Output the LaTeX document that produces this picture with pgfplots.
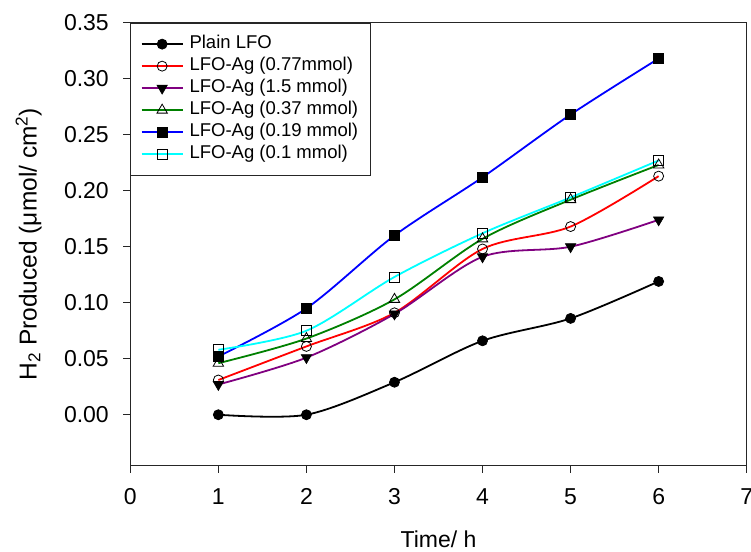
\documentclass[border=0pt]{standalone}
\usepackage{pgfplots}
\pgfplotsset{compat=1.18}
\usepackage{fontspec}
\setmainfont{Liberation Sans}
\definecolor{cpurple}{RGB}{128,0,128}
\definecolor{cgreen}{RGB}{0,128,0}
\definecolor{ccyan}{RGB}{0,255,255}
\begin{document}
\begin{tikzpicture}
\begin{axis}[
  name=ax,
  scale only axis,
  width=616.4pt, height=443pt,
  xmin=0, xmax=7, ymin=-0.0455, ymax=0.35,
  xtick={0,1,2,3,4,5,6,7},
  ytick={0,0.05,0.10,0.15,0.20,0.25,0.30,0.35},
  tick align=outside,
  xtick pos=bottom, ytick pos=left,
  major tick length=7pt,
  axis line style={line width=0.9pt, black!85},
  every tick/.style={line width=0.9pt, black!85},
  /pgf/number format/assume math mode=true,
  ticklabel style={font=\fontsize{23}{23}\selectfont},
  yticklabel style={/pgf/number format/fixed, /pgf/number format/fixed zerofill, /pgf/number format/precision=2, xshift=-11pt},
  xticklabel style={yshift=-12pt},
  scaled y ticks=false,
  xlabel={Time/ h},
  ylabel={H\textsubscript{2} Produced (μmol/ cm\textsuperscript{2})},
  xlabel style={font=\fontsize{23}{23}\selectfont, at={(axis description cs:0.5,-0.165)}, anchor=center},
  ylabel style={font=\fontsize{24.5}{24.5}\selectfont, at={(axis description cs:-0.165,0.5)}, anchor=center},
  legend cell align=left,
  legend style={at={(0,1)}, anchor=north west, draw=black!85, line width=0.9pt,
    font=\fontsize{18.5}{18.5}\selectfont, inner sep=10pt, row sep=0pt, column sep=4pt,
    nodes={inner sep=2pt, text height=13.5pt, text depth=4.5pt}},
  legend image code/.code={\draw[line width=1.8pt, mark repeat=2, mark phase=2] plot coordinates {(0pt,0pt) (20.5pt,0pt) (41pt,0pt)};},
  every axis plot/.append style={line width=1.8pt, smooth},
]
\addplot[black, mark=*, mark size=5pt, mark options={fill=black, line width=0.8pt}]
  coordinates {(1,0.000) (2,0.000) (3,0.029) (4,0.066) (5,0.086) (6,0.119)};
\addlegendentry{Plain LFO}
\addplot[red, mark=o, mark size=5pt, mark options={draw=black, fill=white, line width=0.8pt}]
  coordinates {(1,0.031) (2,0.061) (3,0.091) (4,0.148) (5,0.168) (6,0.213)};
\addlegendentry{LFO-Ag (0.77mmol)}
\addplot[cpurple, mark=triangle*, mark size=6pt, mark options={rotate=180, fill=black, draw=black, line width=0.6pt}]
  coordinates {(1,0.027) (2,0.051) (3,0.090) (4,0.141) (5,0.150) (6,0.174)};
\addlegendentry{LFO-Ag (1.5 mmol)}
\addplot[cgreen, mark=triangle, mark size=6pt, mark options={draw=black, fill=white, line width=0.8pt}]
  coordinates {(1,0.046) (2,0.068) (3,0.103) (4,0.157) (5,0.192) (6,0.223)};
\addlegendentry{LFO-Ag (0.37 mmol)}
\addplot[blue, mark=square*, mark size=5pt, mark options={fill=black, draw=black, line width=0.6pt}]
  coordinates {(1,0.052) (2,0.095) (3,0.160) (4,0.212) (5,0.268) (6,0.318)};
\addlegendentry{LFO-Ag (0.19 mmol)}
\addplot[ccyan, mark=square, mark size=5pt, mark options={draw=black, fill=white, line width=0.8pt}]
  coordinates {(1,0.058) (2,0.075) (3,0.123) (4,0.162) (5,0.194) (6,0.227)};
\addlegendentry{LFO-Ag (0.1 mmol)}
\end{axis}
\pgfresetboundingbox
\path[use as bounding box] ([xshift=-130.3pt,yshift=-85.3pt]ax.south west) rectangle ([xshift=4.3pt,yshift=22.7pt]ax.north east);
\end{tikzpicture}
\end{document}
